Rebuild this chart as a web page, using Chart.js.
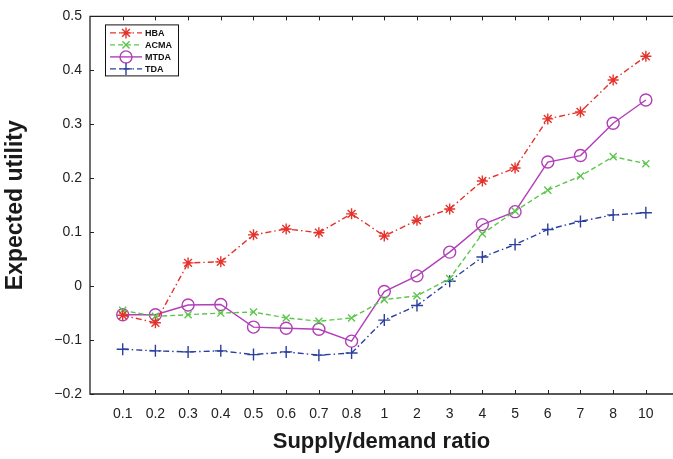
<!DOCTYPE html>
<html>
<head>
<meta charset="utf-8">
<script src="https://cdn.jsdelivr.net/npm/chart.js@4.4.0/dist/chart.umd.min.js"></script>
<style>
  body { margin: 0; background: #fff; }
</style>
</head>
<body>
<canvas id="myChart" width="673" height="459"></canvas>
<script>
// data
const ratios = ['0.1', '0.2', '0.3', '0.4', '0.5', '0.6', '0.7', '0.8', '1', '2', '3', '4', '5', '6', '7', '8', '10'];
const hba  = [-0.054, -0.068, 0.043, 0.045, 0.095, 0.106, 0.099, 0.134, 0.093, 0.122, 0.143, 0.195, 0.219, 0.310, 0.323, 0.382, 0.426];
const acma = [-0.045, -0.056, -0.053, -0.050, -0.048, -0.059, -0.065, -0.059, -0.025, -0.018, 0.014, 0.097, 0.139, 0.178, 0.204, 0.240, 0.227];
const mtda = [-0.053, -0.053, -0.035, -0.034, -0.076, -0.078, -0.080, -0.102, -0.010, 0.019, 0.063, 0.114, 0.138, 0.230, 0.242, 0.302, 0.345];
const tda  = [-0.117, -0.120, -0.122, -0.120, -0.127, -0.122, -0.128, -0.124, -0.063, -0.036, 0.009, 0.054, 0.077, 0.105, 0.120, 0.132, 0.136];
const yTicks = [-0.2, -0.1, 0, 0.1, 0.2, 0.3, 0.4, 0.5];

const toPoints = arr => arr.map((v, i) => ({ x: i + 1, y: v }));

Chart.defaults.font.family = '"Liberation Sans", Arial, Helvetica, sans-serif';
Chart.defaults.color = '#222';

function series(label, values, color, style, radius, dash) {
  return {
    label,
    data: toPoints(values),
    borderColor: color,
    backgroundColor: 'rgba(0,0,0,0)',
    borderWidth: 1.4,
    borderDash: dash,
    pointStyle: style,
    pointRadius: radius,
    pointBorderWidth: 1.4,
    pointBorderColor: color,
    pointBackgroundColor: 'rgba(0,0,0,0)',
    tension: 0
  };
}

const data = {
  datasets: [
    series('HBA', hba, '#e5322b', 'star', 5.5, [6, 3, 1.5, 3]),
    series('ACMA', acma, '#5cc64c', 'crossRot', 5, [5, 3]),
    series('MTDA', mtda, '#b23fb8', 'circle', 6, []),
    series('TDA', tda, '#2b3f9e', 'cross', 6, [6, 3, 1.5, 3])
  ]
};

// the original figure is cut off on the right, so stretch the plot to the canvas edge
const stretchRight = {
  id: 'stretchRight',
  afterLayout(chart) {
    const a = chart.chartArea, s = chart.scales.x;
    a.right = chart.width;
    a.width = a.right - a.left;
    s.right = chart.width;
    s.width = s.right - s.left;
    s.configure();
  }
};

// frame + inward tick marks
const frame = {
  id: 'frame',
  afterDraw(chart) {
    const { ctx, chartArea: a, scales } = chart;
    ctx.save();
    ctx.strokeStyle = '#222';
    ctx.lineWidth = 1.3;
    ctx.beginPath();
    ctx.moveTo(a.right, a.top);
    ctx.lineTo(a.left, a.top);
    ctx.lineTo(a.left, a.bottom);
    ctx.lineTo(a.right, a.bottom);
    ctx.stroke();
    ctx.lineWidth = 1;
    ctx.beginPath();
    scales.x.ticks.forEach(t => {
      const px = Math.round(scales.x.getPixelForValue(t.value)) + 0.5;
      ctx.moveTo(px, a.bottom); ctx.lineTo(px, a.bottom - 4);
      ctx.moveTo(px, a.top); ctx.lineTo(px, a.top + 4);
    });
    scales.y.ticks.forEach(t => {
      const py = Math.round(scales.y.getPixelForValue(t.value)) + 0.5;
      ctx.moveTo(a.left, py); ctx.lineTo(a.left + 4, py);
    });
    ctx.stroke();
    ctx.restore();
  }
};

// legend box with line + marker samples
const legendBox = {
  id: 'legendBox',
  afterDraw(chart) {
    const { ctx, chartArea: a } = chart;
    const x0 = a.left + 15, y0 = a.top + 8, w = 73, h = 51;
    ctx.save();
    ctx.fillStyle = '#fff';
    ctx.fillRect(x0, y0, w, h);
    ctx.strokeStyle = '#111';
    ctx.lineWidth = 1;
    ctx.strokeRect(x0 + 0.5, y0 + 0.5, w, h);
    chart.data.datasets.forEach((ds, i) => {
      const y = y0 + 8.5 + i * 12;
      ctx.strokeStyle = ds.borderColor;
      ctx.lineWidth = ds.borderWidth;
      ctx.setLineDash(ds.borderDash || []);
      ctx.beginPath();
      ctx.moveTo(x0 + 5, y);
      ctx.lineTo(x0 + 37, y);
      ctx.stroke();
      ctx.setLineDash([]);
      ctx.fillStyle = 'rgba(0,0,0,0)';
      Chart.helpers.drawPoint(ctx, {
        pointStyle: ds.pointStyle,
        radius: ds.pointRadius,
        borderWidth: ds.pointBorderWidth,
        rotation: 0
      }, x0 + 21, y);
      ctx.fillStyle = '#111';
      ctx.font = 'bold 9px "Liberation Sans", Arial, sans-serif';
      ctx.textBaseline = 'middle';
      ctx.fillText(ds.label, x0 + 40, y + 0.5);
    });
    ctx.restore();
  }
};

const config = {
  type: 'line',
  data,
  options: {
    responsive: false,
    devicePixelRatio: 1,
    animation: false,
    layout: { padding: { top: 15, right: 0, left: 0, bottom: 0 } },
    plugins: { legend: { display: false }, tooltip: { enabled: false } },
    scales: {
      x: {
        type: 'linear',
        min: 0,
        max: 17.83,
        afterBuildTicks: s => { s.ticks = ratios.map((r, i) => ({ value: i + 1 })); },
        afterFit: s => { s.height = 65; },
        grid: { display: false, drawTicks: false },
        border: { display: false },
        ticks: {
          autoSkip: false,
          maxRotation: 0,
          padding: 12,
          font: { size: 14 },
          callback: v => ratios[v - 1] || ''
        },
        title: {
          display: true,
          text: 'Supply/demand ratio',
          font: { size: 22, weight: 'bold' },
          padding: { top: 5 },
          color: '#1a1a1a'
        }
      },
      y: {
        min: -0.2,
        max: 0.5,
        afterBuildTicks: s => { s.ticks = yTicks.map(v => ({ value: v })); },
        afterFit: s => { s.width = 90; },
        grid: { display: false, drawTicks: false },
        border: { display: false },
        ticks: {
          padding: 8,
          font: { size: 14 },
          callback: v => {
            const n = Math.round(v * 10) / 10;
            if (n === 0) return '0';
            return n < 0 ? '\u2212' + Math.abs(n).toFixed(1) : n.toFixed(1);
          }
        },
        title: {
          display: true,
          text: 'Expected utility',
          font: { size: 23, weight: 'bold' },
          padding: { top: 2 },
          color: '#1a1a1a'
        }
      }
    }
  },
  plugins: [stretchRight, frame, legendBox]
};

const ctx = document.getElementById('myChart');
const myChart = new Chart(ctx, config);
</script>
</body>
</html>
